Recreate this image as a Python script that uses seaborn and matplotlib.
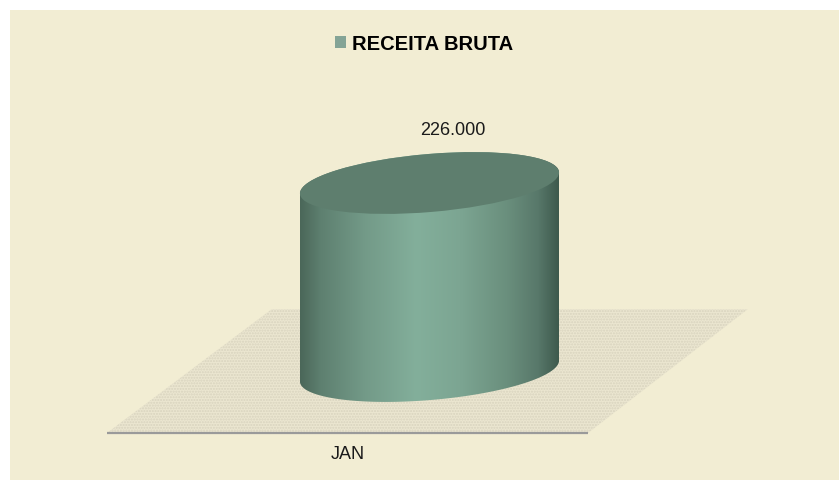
import numpy as np
import matplotlib
matplotlib.use("Agg")
import matplotlib.pyplot as plt
import seaborn as sns
from matplotlib.patches import Rectangle, Ellipse, Polygon, PathPatch
from matplotlib.path import Path
from matplotlib.transforms import IdentityTransform
from matplotlib.colors import LinearSegmentedColormap

# ---- data ----
categories = ["JAN"]
values = [226000]
series_name = "RECEITA BRUTA"

W, H, DPI = 839, 481, 100
BG = "#F2EDD3"
LEG_COLOR = "#7FA996"
TOP_COLOR = "#5E7E6E"

plt.rcParams['font.family'] = ['Liberation Sans', 'DejaVu Sans']

fig = plt.figure(figsize=(W / DPI, H / DPI), dpi=DPI)
fig.patch.set_facecolor("white")
fig.patches.append(Rectangle((10 / W, 0), 1 - 10 / W, (H - 11) / H,
                             transform=fig.transFigure, facecolor=BG,
                             edgecolor="none", zorder=-10))

ax = fig.add_axes([0, 0, 1, 1])
ax.set_facecolor("none")
ax.axis("off")

sns.barplot(x=categories, y=values, color=LEG_COLOR, width=0.8,
            label=series_name, ax=ax)
if ax.get_legend() is not None:
    ax.get_legend().remove()

# layout: map bar center to px 429.5, bar width 259 px; y=0 at 109 px, value at 297 px (from bottom)
bar = ax.patches[0]
bx, bw = bar.get_x(), bar.get_width()
bcx = bx + bw / 2
ppu_x = 259 / bw
ax.set_xlim(bcx - 429.5 / ppu_x, bcx + (W - 429.5) / ppu_x)
vmax = values[0]
ppu_y = (297 - 109) / vmax
ax.set_ylim(-109 / ppu_y, (H - 109) / ppu_y)

leg = fig.legend(handles=[bar], labels=[series_name], loc="center",
                 bbox_to_anchor=(424 / W, 1 - 45 / H),
                 frameon=False, handlelength=0.55, handleheight=0.55,
                 handletextpad=0.3, borderpad=0,
                 prop={"weight": "bold", "size": 14.5})
bar.set_visible(False)

# floor
floor_px = [(107, 434), (588, 434), (748, 310), (272, 310)]
floor = Polygon([(x, H - y) for x, y in floor_px], closed=True,
                transform=IdentityTransform(), facecolor="#EBE6D0",
                edgecolor="#D8D3BE", hatch="......", linewidth=0, zorder=1)
ax.add_artist(floor)
ax.plot([107, 588], [H - 434, H - 434], transform=IdentityTransform(),
        color="#9A9A9A", lw=1.6, zorder=2, solid_capstyle="butt")

# cylinder from bar geometry
theta = np.deg2rad(4.86)
a_px, b_px = 130, 29
(bcx_px, bot_px) = ax.transData.transform((bcx, 0))
(_, top_px) = ax.transData.transform((bcx, bar.get_height()))

def ell_pts(cx, cy, t):
    lx, ly = a_px * np.cos(t), b_px * np.sin(t)
    return np.column_stack([cx + lx * np.cos(theta) - ly * np.sin(theta),
                            cy + lx * np.sin(theta) + ly * np.cos(theta)])

lower = ell_pts(bcx_px, bot_px, np.linspace(np.pi, 2 * np.pi, 120))
upper = ell_pts(bcx_px, top_px, np.linspace(0, np.pi, 120))
body_pts = np.vstack([lower, upper, lower[:1]])
body_path = Path(body_pts, closed=True)
clip = PathPatch(body_path, transform=IdentityTransform(), facecolor="none",
                 edgecolor="none")
ax.add_patch(clip)

cmap = LinearSegmentedColormap.from_list("cyl", [
    (0.0, "#4B6759"), (0.08, "#5E8070"), (0.25, "#739A88"),
    (0.45, "#83AF9B"), (0.62, "#7CA592"), (0.8, "#6A8F7D"),
    (0.92, "#58786A"), (1.0, "#3E5A4D")])
grad = np.linspace(0, 1, 256).reshape(1, -1)
im = ax.imshow(grad, cmap=cmap, aspect="auto",
               extent=(bx, bx + bw, -0.3 * vmax, 1.3 * vmax),
               zorder=3, interpolation="bilinear")
im.set_clip_path(clip)

top = Ellipse((bcx_px, top_px), 2 * a_px, 2 * b_px, angle=np.rad2deg(theta),
              transform=IdentityTransform(), facecolor=TOP_COLOR,
              edgecolor="none", zorder=4)
ax.add_artist(top)

ax.set_xlim(bcx - 429.5 / ppu_x, bcx + (W - 429.5) / ppu_x)
ax.set_ylim(-109 / ppu_y, (H - 109) / ppu_y)

# labels
for cat, v in zip(categories, values):
    lbl = f"{v:,.0f}".replace(",", ".")
    ax.annotate(lbl, xy=(bcx, v), xytext=(23.5, 53), textcoords="offset pixels",
                ha="center", va="center", fontsize=13, color="#1a1a1a", zorder=5)
    ax.annotate(cat, xy=(bcx, 0), xytext=(-81.5, -83), textcoords="offset pixels",
                ha="center", va="center", fontsize=13, color="#1a1a1a", zorder=5)

fig.savefig("out.png", dpi=DPI)
